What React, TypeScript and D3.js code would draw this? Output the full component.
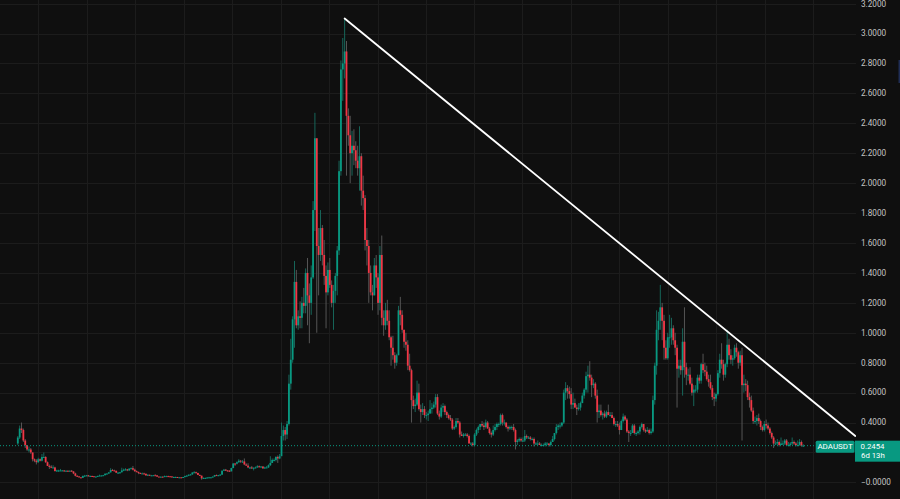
import React from "react";
import * as d3 from "d3";

// ADAUSDT weekly candles, [high, low, close]; open = previous close
const startWeek = "2018-04-16";
const firstOpen = 0.26;

const w2018: [number, number, number][] = [
  [0.31, 0.25, 0.3], [0.38, 0.29, 0.36], [0.4, 0.33, 0.35],
  [0.36, 0.27, 0.28], [0.29, 0.23, 0.25], [0.25, 0.21, 0.22], [0.24, 0.2, 0.22],
  [0.23, 0.19, 0.2], [0.2, 0.14, 0.155], [0.16, 0.135, 0.145], [0.155, 0.12, 0.135],
  [0.165, 0.13, 0.155], [0.16, 0.14, 0.145], [0.19, 0.14, 0.17], [0.2, 0.165, 0.17], [0.175, 0.13, 0.135],
  [0.14, 0.11, 0.11], [0.12, 0.09, 0.105], [0.115, 0.095, 0.1], [0.115, 0.095, 0.1],
  [0.105, 0.075, 0.075], [0.085, 0.07, 0.08], [0.085, 0.07, 0.08], [0.09, 0.077, 0.08],
  [0.083, 0.077, 0.08], [0.082, 0.072, 0.075], [0.08, 0.072, 0.078], [0.08, 0.073, 0.075], [0.08, 0.073, 0.078],
  [0.083, 0.072, 0.073], [0.075, 0.055, 0.06], [0.065, 0.04, 0.044], [0.048, 0.037, 0.04],
  [0.041, 0.033, 0.034], [0.035, 0.028, 0.03], [0.046, 0.03, 0.043], [0.05, 0.039, 0.045], [0.05, 0.042, 0.047],
];

const w2019: [number, number, number][] = [
  [0.05, 0.04, 0.042], [0.046, 0.04, 0.043], [0.045, 0.039, 0.041], [0.042, 0.036, 0.038],
  [0.04, 0.035, 0.039], [0.045, 0.039, 0.043], [0.052, 0.042, 0.046], [0.048, 0.042, 0.046],
  [0.05, 0.044, 0.048], [0.06, 0.047, 0.058], [0.062, 0.055, 0.059], [0.07, 0.057, 0.067],
  [0.095, 0.066, 0.083], [0.09, 0.077, 0.08], [0.085, 0.075, 0.077], [0.08, 0.062, 0.065], [0.07, 0.06, 0.065],
  [0.07, 0.058, 0.068], [0.098, 0.066, 0.08], [0.092, 0.075, 0.085], [0.095, 0.08, 0.087],
  [0.09, 0.075, 0.08], [0.095, 0.078, 0.092], [0.1, 0.088, 0.095], [0.11, 0.08, 0.085],
  [0.092, 0.07, 0.075], [0.08, 0.068, 0.07], [0.072, 0.055, 0.063], [0.066, 0.058, 0.06], [0.066, 0.057, 0.06],
  [0.065, 0.054, 0.058], [0.058, 0.044, 0.047], [0.055, 0.044, 0.051], [0.052, 0.044, 0.046],
  [0.05, 0.044, 0.047], [0.05, 0.044, 0.048], [0.055, 0.046, 0.047], [0.048, 0.036, 0.039], [0.04, 0.037, 0.038],
  [0.04, 0.036, 0.038], [0.04, 0.036, 0.037], [0.046, 0.035, 0.042], [0.045, 0.04, 0.042],
  [0.045, 0.04, 0.041], [0.043, 0.039, 0.04], [0.04, 0.033, 0.036], [0.039, 0.033, 0.036],
  [0.039, 0.035, 0.036], [0.037, 0.033, 0.034], [0.036, 0.031, 0.034], [0.036, 0.032, 0.033], [0.037, 0.032, 0.036],
];

const w2020: [number, number, number][] = [
  [0.045, 0.034, 0.042], [0.05, 0.041, 0.045], [0.054, 0.042, 0.051], [0.057, 0.048, 0.053],
  [0.068, 0.051, 0.066], [0.075, 0.062, 0.068], [0.072, 0.06, 0.063], [0.065, 0.049, 0.05],
  [0.053, 0.044, 0.045], [0.046, 0.0175, 0.027], [0.033, 0.023, 0.03], [0.032, 0.027, 0.03], [0.034, 0.028, 0.033],
  [0.037, 0.031, 0.034], [0.036, 0.032, 0.034], [0.04, 0.033, 0.039], [0.05, 0.037, 0.049],
  [0.053, 0.045, 0.048], [0.05, 0.042, 0.048], [0.055, 0.046, 0.052], [0.08, 0.05, 0.078],
  [0.09, 0.076, 0.085], [0.09, 0.077, 0.08], [0.082, 0.072, 0.078], [0.082, 0.07, 0.074], [0.098, 0.073, 0.096],
  [0.13, 0.095, 0.126], [0.13, 0.11, 0.125], [0.14, 0.12, 0.135], [0.155, 0.13, 0.145],
  [0.15, 0.13, 0.14], [0.15, 0.13, 0.14], [0.16, 0.115, 0.12], [0.128, 0.11, 0.112], [0.128, 0.095, 0.1],
  [0.105, 0.09, 0.1], [0.11, 0.09, 0.095], [0.1, 0.08, 0.098], [0.106, 0.094, 0.1],
  [0.115, 0.097, 0.108], [0.113, 0.1, 0.105], [0.11, 0.1, 0.106], [0.108, 0.09, 0.094],
  [0.105, 0.09, 0.1], [0.11, 0.097, 0.1], [0.12, 0.097, 0.115], [0.175, 0.11, 0.13], [0.16, 0.13, 0.15],
  [0.16, 0.14, 0.15], [0.175, 0.14, 0.17], [0.18, 0.13, 0.16], [0.19, 0.155, 0.175],
];

const w2021: [number, number, number][] = [
  [0.4, 0.19, 0.31], [0.38, 0.28, 0.35], [0.37, 0.28, 0.32], [0.41, 0.29, 0.39],
  [0.72, 0.38, 0.66], [0.96, 0.62, 0.82], [1.11, 0.8, 1.09], [1.48, 0.9, 1.34],
  [1.42, 1.03, 1.05], [1.15, 1.02, 1.11], [1.21, 1.03, 1.1], [1.24, 1.03, 1.2], [1.3, 1.13, 1.18],
  [1.43, 1.13, 1.4], [1.5, 1.05, 1.25], [1.33, 0.93, 1.2], [1.45, 1.12, 1.37],
  [1.88, 1.36, 1.82], [2.47, 1.68, 2.3], [2.3, 1.0, 1.58], [1.7, 1.25, 1.52], [1.82, 1.48, 1.7],
  [1.72, 1.45, 1.52], [1.62, 1.32, 1.38], [1.45, 1.03, 1.27], [1.47, 1.25, 1.42],
  [1.5, 1.3, 1.32], [1.35, 1.17, 1.2], [1.32, 1.02, 1.28], [1.4, 1.2, 1.38],
  [1.58, 1.25, 1.55], [2.15, 1.52, 2.08], [2.82, 2.05, 2.76], [2.97, 2.55, 2.8], [3.1, 2.7, 2.88],
  [2.95, 2.05, 2.45], [2.5, 2.25, 2.32], [2.45, 2.0, 2.2], [2.35, 2.05, 2.25],
  [2.36, 2.12, 2.22], [2.28, 2.1, 2.15], [2.25, 2.05, 2.1], [2.38, 1.95, 2.18],
  [2.2, 1.85, 1.95], [2.05, 1.82, 1.9], [1.92, 1.55, 1.62], [1.7, 1.45, 1.58], [1.62, 1.2, 1.4],
  [1.45, 1.25, 1.27], [1.32, 1.15, 1.25], [1.5, 1.25, 1.45], [1.52, 1.3, 1.37],
];

const w2022: [number, number, number][] = [
  [1.4, 1.12, 1.2], [1.58, 1.15, 1.52], [1.65, 1.05, 1.1], [1.15, 0.98, 1.05], [1.2, 1.02, 1.15],
  [1.22, 1.05, 1.08], [1.15, 0.95, 0.97], [0.98, 0.78, 0.9], [0.98, 0.82, 0.85],
  [0.87, 0.76, 0.8], [0.86, 0.78, 0.85], [1.18, 0.85, 1.15], [1.24, 1.05, 1.12],
  [1.15, 1.0, 1.02], [1.02, 0.9, 0.94], [1.0, 0.88, 0.92], [0.95, 0.75, 0.78],
  [0.86, 0.74, 0.75], [0.76, 0.4, 0.55], [0.58, 0.49, 0.51], [0.56, 0.47, 0.52], [0.68, 0.51, 0.6],
  [0.66, 0.48, 0.49], [0.52, 0.4, 0.47], [0.53, 0.45, 0.49], [0.51, 0.43, 0.45],
  [0.47, 0.42, 0.45], [0.48, 0.41, 0.46], [0.55, 0.46, 0.49], [0.53, 0.46, 0.5],
  [0.54, 0.49, 0.52], [0.59, 0.5, 0.57], [0.59, 0.45, 0.46], [0.48, 0.42, 0.44], [0.52, 0.43, 0.5],
  [0.53, 0.47, 0.51], [0.52, 0.45, 0.47], [0.48, 0.43, 0.45], [0.46, 0.42, 0.43],
  [0.45, 0.41, 0.42], [0.43, 0.35, 0.36], [0.38, 0.35, 0.37], [0.43, 0.36, 0.41], [0.43, 0.39, 0.4],
  [0.41, 0.3, 0.32], [0.34, 0.31, 0.31], [0.33, 0.3, 0.32], [0.33, 0.31, 0.32],
  [0.33, 0.3, 0.31], [0.32, 0.26, 0.26], [0.27, 0.25, 0.26], [0.27, 0.24, 0.25],
];

const w2023: [number, number, number][] = [
  [0.33, 0.24, 0.32], [0.36, 0.31, 0.35], [0.38, 0.33, 0.37], [0.39, 0.35, 0.39], [0.41, 0.37, 0.38],
  [0.4, 0.35, 0.37], [0.42, 0.36, 0.4], [0.41, 0.36, 0.36], [0.37, 0.32, 0.33],
  [0.34, 0.3, 0.32], [0.38, 0.31, 0.35], [0.39, 0.34, 0.37], [0.4, 0.35, 0.39],
  [0.4, 0.37, 0.39], [0.46, 0.38, 0.45], [0.46, 0.38, 0.4], [0.42, 0.38, 0.4],
  [0.4, 0.36, 0.37], [0.38, 0.34, 0.36], [0.38, 0.35, 0.37], [0.38, 0.35, 0.37], [0.39, 0.34, 0.35],
  [0.36, 0.22, 0.27], [0.29, 0.25, 0.28], [0.3, 0.27, 0.29], [0.3, 0.27, 0.28],
  [0.3, 0.27, 0.28], [0.35, 0.27, 0.31], [0.32, 0.29, 0.3], [0.31, 0.29, 0.3], [0.31, 0.28, 0.29],
  [0.3, 0.28, 0.29], [0.3, 0.24, 0.26], [0.27, 0.25, 0.26], [0.28, 0.25, 0.26],
  [0.27, 0.25, 0.25], [0.26, 0.24, 0.25], [0.26, 0.24, 0.25], [0.27, 0.24, 0.26],
  [0.27, 0.25, 0.26], [0.26, 0.24, 0.25], [0.28, 0.24, 0.27], [0.31, 0.27, 0.29], [0.33, 0.28, 0.33],
  [0.39, 0.32, 0.37], [0.39, 0.35, 0.38], [0.4, 0.36, 0.38], [0.4, 0.37, 0.4],
  [0.62, 0.39, 0.6], [0.67, 0.55, 0.63], [0.65, 0.56, 0.61], [0.64, 0.56, 0.59],
];

const w2024: [number, number, number][] = [
  [0.63, 0.49, 0.52], [0.6, 0.49, 0.53], [0.56, 0.5, 0.5], [0.52, 0.45, 0.49], [0.53, 0.48, 0.5],
  [0.54, 0.48, 0.53], [0.6, 0.53, 0.58], [0.63, 0.56, 0.62], [0.74, 0.6, 0.71],
  [0.78, 0.6, 0.72], [0.81, 0.68, 0.7], [0.72, 0.57, 0.65], [0.69, 0.63, 0.66],
  [0.67, 0.56, 0.58], [0.62, 0.4, 0.47], [0.52, 0.43, 0.48], [0.52, 0.44, 0.45], [0.47, 0.42, 0.46],
  [0.48, 0.43, 0.44], [0.48, 0.43, 0.47], [0.52, 0.45, 0.45], [0.47, 0.44, 0.45],
  [0.47, 0.43, 0.43], [0.44, 0.38, 0.39], [0.41, 0.37, 0.39], [0.41, 0.37, 0.38],
  [0.4, 0.32, 0.35], [0.42, 0.35, 0.41], [0.46, 0.4, 0.44], [0.45, 0.41, 0.42], [0.43, 0.33, 0.34],
  [0.35, 0.27, 0.33], [0.35, 0.31, 0.33], [0.39, 0.33, 0.38], [0.39, 0.32, 0.33],
  [0.34, 0.31, 0.33], [0.35, 0.32, 0.34], [0.38, 0.32, 0.37], [0.4, 0.36, 0.39], [0.39, 0.34, 0.35],
  [0.36, 0.33, 0.34], [0.37, 0.34, 0.35], [0.36, 0.32, 0.33], [0.36, 0.32, 0.34],
  [0.58, 0.33, 0.55], [0.8, 0.52, 0.78], [1.15, 0.72, 1.02], [1.14, 0.95, 1.08],
  [1.32, 1.02, 1.17], [1.2, 0.95, 1.08], [1.12, 0.82, 0.9], [0.95, 0.82, 0.83], [1.0, 0.82, 0.97],
];

const w2025: [number, number, number][] = [
  [1.12, 0.9, 0.97], [1.1, 0.92, 1.03], [1.05, 0.92, 0.95], [1.0, 0.85, 0.9],
  [0.92, 0.5, 0.76], [0.82, 0.7, 0.78], [0.82, 0.72, 0.75], [1.03, 0.58, 0.94],
  [1.17, 0.7, 0.77], [0.8, 0.65, 0.72], [0.76, 0.68, 0.72], [0.77, 0.65, 0.66], [0.7, 0.58, 0.6],
  [0.65, 0.51, 0.62], [0.65, 0.6, 0.62], [0.72, 0.6, 0.7], [0.72, 0.66, 0.68],
  [0.8, 0.66, 0.79], [0.86, 0.73, 0.75], [0.8, 0.71, 0.74], [0.78, 0.68, 0.69],
  [0.72, 0.64, 0.67], [0.72, 0.62, 0.63], [0.65, 0.55, 0.57], [0.6, 0.51, 0.56], [0.6, 0.54, 0.59],
  [0.75, 0.58, 0.73], [0.86, 0.7, 0.82], [0.93, 0.76, 0.79], [0.82, 0.68, 0.72],
  [0.8, 0.7, 0.79], [1.02, 0.77, 0.92], [0.96, 0.82, 0.85], [0.89, 0.79, 0.82],
  [0.85, 0.78, 0.83], [0.92, 0.82, 0.9], [0.93, 0.84, 0.87], [0.88, 0.76, 0.8], [0.88, 0.78, 0.85],
  [0.9, 0.28, 0.65], [0.72, 0.6, 0.66], [0.69, 0.61, 0.65], [0.68, 0.55, 0.57],
  [0.6, 0.5, 0.55], [0.58, 0.47, 0.48], [0.5, 0.39, 0.41], [0.44, 0.39, 0.41],
  [0.45, 0.38, 0.43], [0.46, 0.39, 0.41], [0.42, 0.35, 0.37], [0.38, 0.34, 0.35], [0.41, 0.34, 0.39],
];

const w2026: [number, number, number][] = [
  [0.42, 0.36, 0.38], [0.4, 0.35, 0.36], [0.37, 0.32, 0.33], [0.34, 0.29, 0.3],
  [0.31, 0.23, 0.26], [0.28, 0.25, 0.26], [0.29, 0.25, 0.27], [0.28, 0.24, 0.25],
  [0.3, 0.25, 0.26], [0.28, 0.25, 0.26], [0.29, 0.25, 0.28], [0.29, 0.25, 0.25], [0.27, 0.24, 0.25],
  [0.27, 0.24, 0.26], [0.3, 0.25, 0.27], [0.28, 0.25, 0.26], [0.27, 0.24, 0.25],
  [0.28, 0.24, 0.25], [0.29, 0.245, 0.27], [0.28, 0.24, 0.243], [0.255, 0.24, 0.2454],
];

const priceTicks = [0, 0.2, 0.4, 0.6, 0.8, 1.0, 1.2, 1.4, 1.6, 1.8, 2.0, 2.2, 2.4, 2.6, 2.8, 3.0, 3.2];
const symbolLabel = "ADAUSDT";
const lastPrice = 0.2454;
const countdown = "6d 13h";
const trendStart: [string, number] = ["2021-08-30", 3.1];
const trendEnd: [string, number] = ["2026-12-07", 0.31];

const W = 900;
const H = 499;
const paneRight = 856;
const BG = "#0f0f0f";
const UP = "#089981";
const DOWN = "#f23645";
const UP_WICK = "#17665a";
const DOWN_WICK = "#555555";
const GRID = "#1c1c1c";
const TEXT = "#c4c4c4";
const FONT = "Roboto, 'Liberation Sans', sans-serif";

export default function App() {
  const rows = [...w2018, ...w2019, ...w2020, ...w2021, ...w2022, ...w2023, ...w2024, ...w2025, ...w2026];
  const t0 = new Date(startWeek + "T00:00:00Z").getTime();
  const WEEK = 7 * 864e5;
  const bars = rows.map((r, i) => {
    const open = i === 0 ? firstOpen : rows[i - 1][2];
    return { date: new Date(t0 + i * WEEK), open, high: r[0], low: r[1], close: r[2] };
  });
  const n = bars.length;
  const step = 1.857;
  const x = d3
    .scaleUtc()
    .domain([bars[0].date, bars[n - 1].date])
    .range([17.8, 17.8 + (n - 1) * step]);
  const y = d3.scaleLinear().domain([0, 3.2]).range([482.4, 3.6]);

  const gridDates = d3.utcMonth.every(6)!.range(x.invert(0), x.invert(paneRight));
  const fmt = d3.format(".4f");
  const label = (v: number) => (v === 0 ? "\u22120.0000" : fmt(v));

  const bodyW = 1.8;
  const yp = y(lastPrice);
  const boxTop = yp - 5;
  const boxH = 21;
  // tick labels hidden behind the last-price label (as the price scale does)
  const visibleTicks = priceTicks.filter((v) => y(v) < boxTop - 4 || y(v) > boxTop + boxH + 4);

  const tx1 = x(new Date(trendStart[0] + "T00:00:00Z"));
  const ty1 = y(trendStart[1]);
  const tx2 = x(new Date(trendEnd[0] + "T00:00:00Z"));
  const ty2 = y(trendEnd[1]);

  return (
    <svg
      width={W}
      height={H}
      style={{ position: "absolute", left: 0, top: 0, display: "block" }}
      fontFamily={FONT}
    >
      <defs>
        <clipPath id="pane">
          <rect x={0} y={0} width={paneRight} height={H} />
        </clipPath>
      </defs>
      <rect x={0} y={0} width={W} height={H} fill={BG} />
      <g clipPath="url(#pane)">
        {priceTicks.map((v) => (
          <line key={"h" + v} x1={0} x2={paneRight} y1={Math.round(y(v)) + 0.5} y2={Math.round(y(v)) + 0.5} stroke={GRID} strokeWidth={1} />
        ))}
        {gridDates.map((d) => (
          <line key={"v" + d.getTime()} x1={Math.round(x(d)) + 0.5} x2={Math.round(x(d)) + 0.5} y1={0} y2={H} stroke={GRID} strokeWidth={1} />
        ))}
        {bars.map((b, i) => {
          const cx = x(b.date);
          const up = b.close >= b.open;
          return (
            <line key={"w" + i} x1={cx} x2={cx} y1={y(b.high)} y2={y(b.low)} stroke={up ? UP_WICK : DOWN_WICK} strokeWidth={1} />
          );
        })}
        {bars.map((b, i) => {
          const cx = x(b.date);
          const up = b.close >= b.open;
          const top = y(Math.max(b.open, b.close));
          const bot = y(Math.min(b.open, b.close));
          return (
            <rect key={"b" + i} x={cx - bodyW / 2} y={top} width={bodyW} height={Math.max(1, bot - top)} fill={up ? UP : DOWN} />
          );
        })}
        <line x1={0} x2={paneRight} y1={yp} y2={yp} stroke={UP} strokeWidth={1} strokeDasharray="1,2" />
        <line x1={tx1} y1={ty1} x2={tx2} y2={ty2} stroke="#ffffff" strokeWidth={1.8} strokeLinecap="round" />
      </g>
      {visibleTicks.map((v) => (
        <text key={"t" + v} x={861} y={Math.max(y(v), 4.5)} dy="0.35em" fontSize={8.2} fill={TEXT}>
          {label(v)}
        </text>
      ))}
      <rect x={815.7} y={boxTop} width={38.8} height={12} rx={1.5} fill={UP} />
      <text x={835.1} y={yp + 1} dy="0.35em" textAnchor="middle" fontSize={8} fill="#ffffff">
        {symbolLabel}
      </text>
      <rect x={855} y={boxTop} width={45} height={boxH} fill={UP} />
      <text x={860.5} y={yp + 0.6} dy="0.35em" fontSize={7.8} fill="#ffffff">
        {fmt(lastPrice)}
      </text>
      <text x={861} y={yp + 9.6} dy="0.35em" fontSize={7.8} fill="#ffffff">
        {countdown}
      </text>
      <rect x={898.5} y={60} width={1.5} height={23} fill="#1f2d55" />
    </svg>
  );
}
